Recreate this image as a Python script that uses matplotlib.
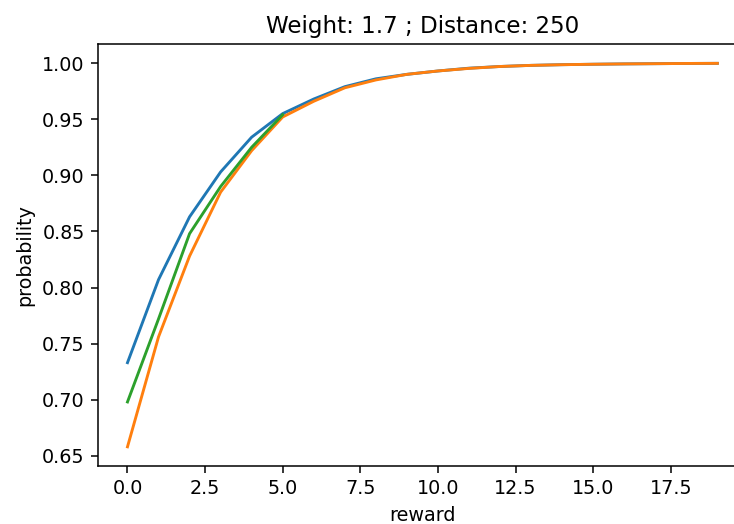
import matplotlib
matplotlib.use("Agg")
import matplotlib.pyplot as plt

# reward values and probability curves
reward = list(range(20))
prob_blue = [0.733, 0.807, 0.863, 0.903, 0.934, 0.955, 0.968, 0.979, 0.986, 0.990,
             0.993, 0.9955, 0.997, 0.998, 0.9986, 0.999, 0.9993, 0.9995, 0.9997, 0.9998]
prob_orange = [0.658, 0.756, 0.828, 0.885, 0.922, 0.952, 0.966, 0.978, 0.985, 0.990,
               0.993, 0.9953, 0.997, 0.998, 0.9986, 0.999, 0.9993, 0.9995, 0.9997, 0.9998]
reward_short = list(range(6))
prob_green = [0.698, 0.772, 0.848, 0.890, 0.925, 0.954]

DPI = 138
fig = plt.figure(figsize=(734 / DPI, 524 / DPI), dpi=DPI)
ax = fig.add_axes([0.1335, 0.1107, 0.884, 0.805])

ax.plot(reward, prob_blue)
ax.plot(reward, prob_orange)
ax.plot(reward_short, prob_green)

ax.set_title("Weight: 1.7 ; Distance: 250")
ax.set_xlabel("reward")
ax.set_ylabel("probability")

fig.savefig("out.png", dpi=DPI)
